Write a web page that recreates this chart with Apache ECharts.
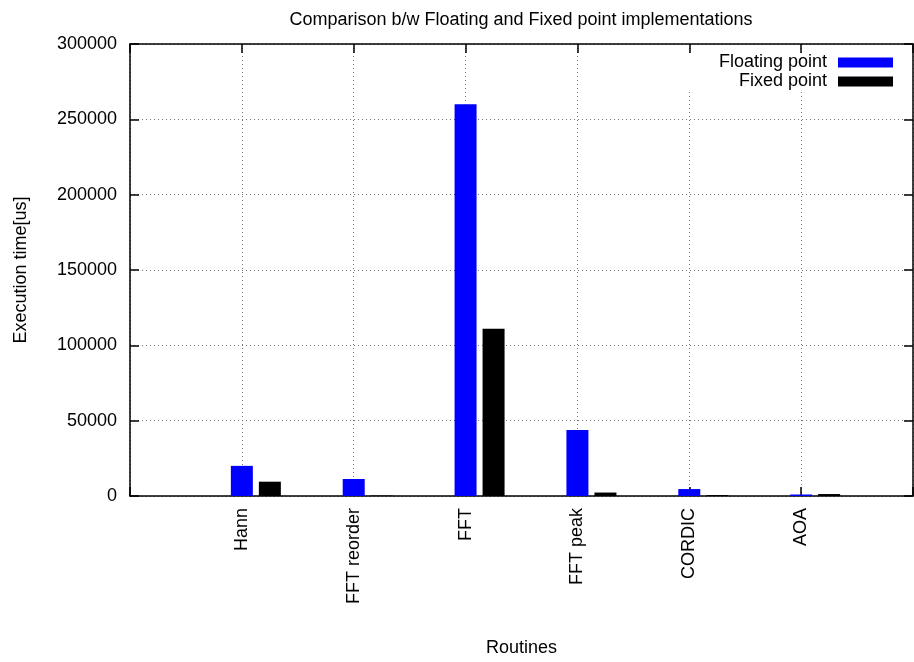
<!DOCTYPE html>
<html>
<head>
<meta charset="utf-8">
<script src="https://cdn.jsdelivr.net/npm/echarts@6/dist/echarts.min.js"></script>
<style>html,body{margin:0;padding:0;background:#fff;}#c{width:914px;height:662px;}</style>
</head>
<body>
<div id="c"></div>
<script>
const categories = ['', 'Hann', 'FFT reorder', 'FFT', 'FFT peak', 'CORDIC', 'AOA', ''];
const floatingPoint = ['-', 20000, 11300, 260000, 43800, 4600, 1000, '-'];
const fixedPoint = ['-', 9500, 300, 111000, 2300, 600, 1300, '-'];
const yTicks = { min: 0, max: 300000, interval: 50000 };

const FONT = '"Liberation Sans", Arial, sans-serif';
const chart = echarts.init(document.getElementById('c'), null, { renderer: 'canvas' });
const axisLine = { show: true, onZero: false, lineStyle: { color: '#000', width: 1.5 } };
const tick = { show: true, inside: true, length: 9, lineStyle: { color: '#000', width: 1.5 } };
const grid = { show: true, lineStyle: { color: '#777', type: [1, 3], width: 1 } };

chart.setOption({
  animation: false,
  backgroundColor: '#fff',
  title: {
    text: 'Comparison b/w Floating and Fixed point implementations',
    left: 521, top: 11, textAlign: 'center', padding: 0,
    textStyle: { fontFamily: FONT, fontSize: 18, fontWeight: 'normal', color: '#000' }
  },
  legend: {
    data: ['Floating point', 'Fixed point'],
    orient: 'vertical', right: 2, top: 53, padding: [0, 19, 0, 30],
    align: 'right', itemWidth: 55, itemHeight: 10, itemGap: 0,
    backgroundColor: '#fff',
    icon: 'rect',
    textStyle: { fontFamily: FONT, fontSize: 18, color: '#000', lineHeight: 19, width: 120, align: 'right', padding: [0, 6, 0, 0] }
  },
  grid: { left: 130, right: 1, top: 44, bottom: 166 },
  xAxis: [{
    type: 'category', data: categories, boundaryGap: false, position: 'bottom',
    axisLine: axisLine, axisTick: tick, splitLine: grid,
    axisLabel: { rotate: 90, margin: 12, fontFamily: FONT, fontSize: 18, color: '#000', interval: 0 },
    name: 'Routines', nameLocation: 'middle', nameGap: 143,
    nameTextStyle: { fontFamily: FONT, fontSize: 18, color: '#000' }
  }, {
    type: 'category', data: categories, boundaryGap: false, position: 'top',
    axisLine: axisLine, axisTick: tick, axisLabel: { show: false }, splitLine: { show: false }
  }],
  yAxis: [{
    type: 'value', min: yTicks.min, max: yTicks.max, interval: yTicks.interval, position: 'left',
    axisLine: axisLine, axisTick: tick, splitLine: grid,
    axisLabel: { margin: 13, fontFamily: FONT, fontSize: 18, color: '#000', formatter: v => String(v) },
    name: 'Execution time[us]', nameLocation: 'middle', nameGap: 100, nameRotate: 90,
    nameTextStyle: { fontFamily: FONT, fontSize: 18, color: '#000' }
  }, {
    type: 'value', min: yTicks.min, max: yTicks.max, interval: yTicks.interval, position: 'right',
    axisLine: axisLine, axisTick: tick, axisLabel: { show: false }, splitLine: { show: false }
  }],
  series: [
    { name: '_pad', type: 'bar', data: categories.map(() => '-'), barWidth: 22 },
    { name: 'Floating point', type: 'bar', data: floatingPoint, barWidth: 22,
      itemStyle: { color: '#0000ff' } },
    { name: 'Fixed point', type: 'bar', data: fixedPoint, barWidth: 22, barGap: '27.27%',
      itemStyle: { color: '#000000' } }
  ]
});
</script>
</body>
</html>
